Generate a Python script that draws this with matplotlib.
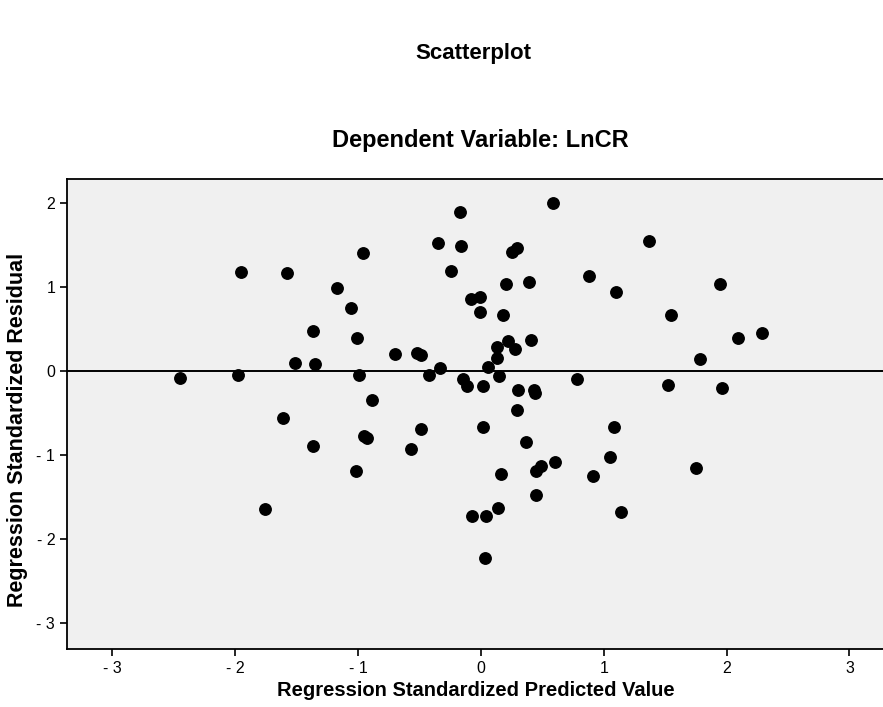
import numpy as np
import matplotlib.pyplot as plt

# standardized predicted values (x) and standardized residuals (y)
pred = [-2.45, -1.98, -1.95, -1.58, -1.51, -1.35, -1.37, -1.17, -1.06, -0.96,
        -1.01, -0.99, -0.89, -1.61, -1.37, -0.95, -0.93, -1.02, -1.76,
        -0.70, -0.52, -0.49, -0.42, -0.33, -0.35, -0.17, -0.16, -0.24,
        -0.08, -0.01, -0.01, -0.15, -0.11, 0.02, 0.06, 0.13, 0.13, 0.15,
        0.20, 0.18, 0.22, 0.28, 0.25, 0.29, 0.39, 0.41, 0.30, 0.43, 0.44,
        0.29, 0.59, 0.78, 0.88, 1.10, 1.37, 1.55, 1.52, 1.95, 2.09, 2.29,
        1.78, 1.96, -0.49, -0.57, 0.02, 0.37, 0.45, 0.49, 0.60, 0.45, 0.16,
        0.14, -0.07, 0.04, 0.03, 1.08, 1.05, 0.91, 1.14, 1.75]
resid = [-0.08, -0.04, 1.18, 1.17, 0.10, 0.09, 0.48, 0.99, 0.75, 1.41,
         0.39, -0.04, -0.34, -0.56, -0.89, -0.77, -0.80, -1.19, -1.64,
         0.21, 0.22, 0.19, -0.05, 0.04, 1.53, 1.90, 1.49, 1.19,
         0.86, 0.89, 0.71, -0.09, -0.18, -0.18, 0.05, 0.29, 0.16, -0.06,
         1.04, 0.67, 0.36, 0.27, 1.42, 1.47, 1.06, 0.37, -0.22, -0.22, -0.26,
         -0.46, 2.00, -0.09, 1.13, 0.94, 1.55, 0.67, -0.17, 1.04, 0.40, 0.46,
         0.15, -0.20, -0.69, -0.93, -0.66, -0.84, -1.19, -1.13, -1.08, -1.47, -1.23,
         -1.63, -1.72, -1.73, -2.23, -0.67, -1.02, -1.25, -1.68, -1.15]

xticks = [-3, -2, -1, 0, 1, 2, 3]
yticks = [-3, -2, -1, 0, 1, 2]

plt.rcParams['font.family'] = ['Liberation Sans', 'DejaVu Sans']

fig = plt.figure(figsize=(8.83, 7.07), dpi=100)
ax = fig.add_axes([67/883, 58/707, 823/883, 470/707])
ax.set_facecolor('#f0f0f0')

ax.scatter(pred, resid, s=68, color='black', zorder=3)
ax.axhline(0, color='black', lw=1.4, zorder=2)

ax.set_xlim(-3.37, 3.33)
ax.set_ylim(-3.31, 2.29)
ax.set_xticks(xticks)
ax.set_xticklabels([str(t).replace('-', '- ') for t in xticks])
ax.set_yticks(yticks)
ax.set_yticklabels([str(t).replace('-', '- ') for t in yticks])
ax.tick_params(direction='out', length=5, width=1.2, labelsize=11.5, colors='black')
for sp in ax.spines.values():
    sp.set_linewidth(1.3)

fig.text(0.536, 1 - 53/707, 'Scatterplot', ha='center', va='center',
         fontsize=16, fontweight='bold')
fig.text(0.544, 1 - 141/707, 'Dependent Variable: LnCR', ha='center', va='center',
         fontsize=17, fontweight='bold')
fig.text(0.539, 1 - 690/707, 'Regression Standardized Predicted Value', ha='center',
         va='center', fontsize=14.5, fontweight='bold')
fig.text(18/883, 1 - 430/707, 'Regression Standardized Residual', ha='center',
         va='center', rotation=90, fontsize=15.5, fontweight='bold')

fig.savefig('out.png', dpi=100)
